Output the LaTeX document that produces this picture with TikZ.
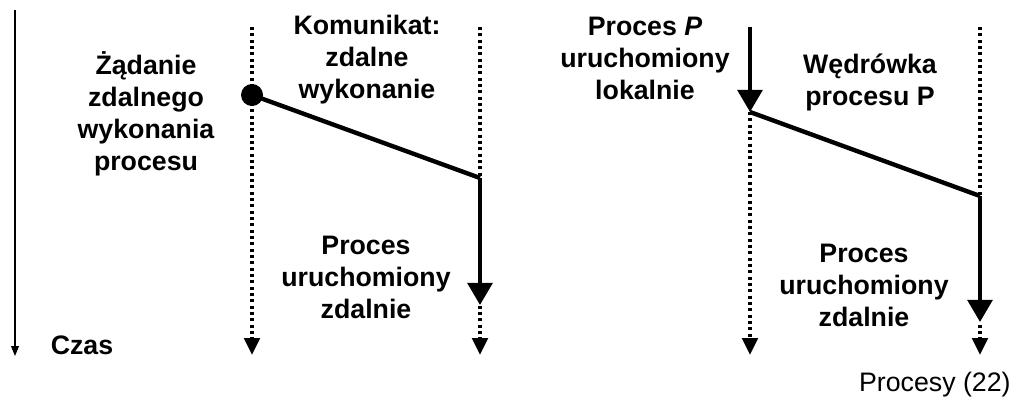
\documentclass[tikz,border=0pt]{standalone}
\usepackage{fontspec}
\setmainfont{Liberation Sans}
\usetikzlibrary{arrows.meta}
\tikzset{
  txt/.style={font=\fontsize{7.6}{9.1}\selectfont\bfseries,align=center},
  proc/.style={dash pattern=on 0.9pt off 0.9pt,line width=1pt,-{Triangle[width=4.4pt,length=4.8pt]}},
  mig/.style={line width=1.25pt},
  run/.style={line width=1.25pt,-{Triangle[width=7pt,length=6.3pt]}}
}
\begin{document}
\begin{tikzpicture}[x=0.01cm,y=-0.01cm]
  \useasboundingbox(0,0) rectangle(1024,403);
  % os czasu
  \coordinate(t0) at(15,10);
  \coordinate(t1) at(15,356);
  \draw[line width=0.35pt,-{Triangle[width=2.2pt,length=2.8pt]}](t0)--(t1);
  \node[txt] (czas) at(82,345){Czas};
  % zdalne wykonanie
  \coordinate(a0) at(252,27);
  \coordinate(a1) at(252,355);
  \coordinate(b0) at(480,27);
  \coordinate(b1) at(480,355);
  \coordinate(s) at(252,95);
  \coordinate(r) at(480,178);
  \coordinate(e) at(480,305);
  \draw[proc](a0)--(a1);
  \draw[proc](b0)--(b1);
  \draw[mig](s)--(r);
  \draw[run](r)--(e);
  \fill(s) circle(11);
  \node[txt] (zad) at(146,114){Żądanie\\zdalnego\\wykonania\\procesu};
  \node[txt] (kom) at(367,60){Komunikat:\\zdalne\\wykonanie};
  \node[txt] (uz1) at(366,277){Proces\\uruchomiony\\zdalnie};
  % migracja procesu
  \coordinate(c0) at(750,27);
  \coordinate(m) at(750,112);
  \coordinate(c1) at(750,355);
  \coordinate(d0) at(980,27);
  \coordinate(d1) at(980,355);
  \coordinate(q) at(980,196);
  \coordinate(f) at(980,322);
  \draw[proc](m)--(c1);
  \draw[proc](d0)--(d1);
  \draw[fill=white,draw=none](975,196) rectangle(985,322);
  \draw[run](c0)--(m);
  \draw[mig](m)--(q);
  \draw[run](q)--(f);
  \node[txt] (lok) at(645,58){Proces \textit{P}\\uruchomiony\\lokalnie};
  \node[txt] (wed) at(870,82){Wędrówka\\procesu P};
  \node[txt] (uz2) at(864,285){Proces\\uruchomiony\\zdalnie};
  \node[font=\fontsize{7.6}{9.1}\selectfont,anchor=east] (nr) at(1023,385){Procesy (22)};
\end{tikzpicture}
\end{document}
